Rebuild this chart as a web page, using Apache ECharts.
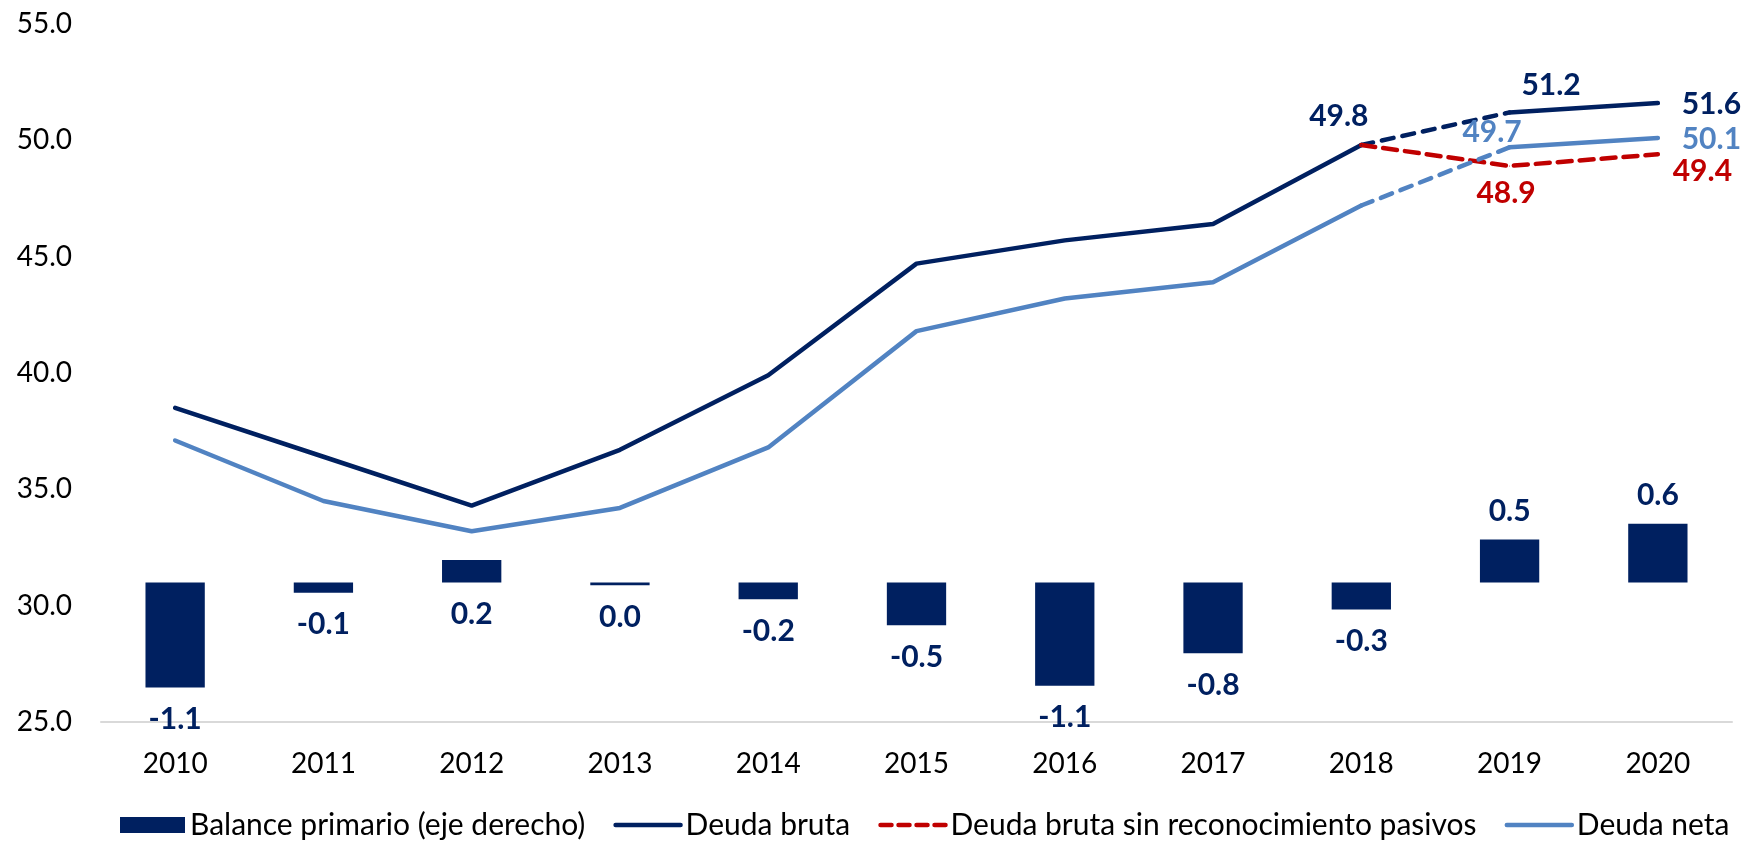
<!DOCTYPE html>
<html>
<head>
<meta charset="utf-8">
<script src="https://cdn.jsdelivr.net/npm/echarts@6/dist/echarts.min.js"></script>
<style>
html,body{margin:0;padding:0;background:#fff;}
#chart{width:1749px;height:841px;}
</style>
</head>
<body>
<div id="chart"></div>
<script>
// ---- Data ----
const categories = ['2010','2011','2012','2013','2014','2015','2016','2017','2018','2019','2020'];
const balancePrimario = [-1.13, -0.11, 0.24, -0.03, -0.18, -0.46, -1.11, -0.76, -0.29, 0.46, 0.63];
const deudaBruta = [38.5, 36.4, 34.3, 36.7, 39.9, 44.7, 45.7, 46.4, 49.8, 51.2, 51.6];
const deudaBrutaSinPasivos = [null, null, null, null, null, null, null, null, 49.8, 48.9, 49.4];
const deudaNeta = [37.1, 34.5, 33.2, 34.2, 36.8, 41.8, 43.2, 43.9, 47.2, 49.7, 50.1];
const leftTicks = [25, 30, 35, 40, 45, 50, 55];

// ---- Styling ----
const FONT = 'Lato, "Open Sans", sans-serif';
const C_DARK = '#002060';
const C_RED = '#C00000';
const C_LIGHT = '#5183C2';
const dashStart = 8;   // index where dashed (projected) segment begins
const dashEnd = 9;     // index where it ends
const LW = 4.5;
const LABEL_FS = 30;

const lineLabels = {
  bruta: {8: [-22, -28], 9: [42, -27], 10: [54, 2]},
  sin:   {9: [-3, 28], 10: [45, 18]},
  neta:  {9: [-17, -14], 10: [54, 2]}
};
const barLabelBelow = {'2012': true};

function fmt(v) { const r = Math.round(v * 10) / 10; return (r === 0 ? 0 : r).toFixed(1); }

function item(v, i, labels, color) {
  if (v === null || v === undefined) return '-';
  const off = labels[i];
  if (!off) return v;
  return {
    value: v,
    symbol: 'circle',
    symbolSize: 1,
    label: {
      show: true, position: off, align: 'center', verticalAlign: 'middle',
      formatter: (p) => fmt(p.value), color: color,
      fontFamily: FONT, fontSize: LABEL_FS, fontWeight: 'bold'
    }
  };
}

function segment(arr, from, to, labels, color) {
  return arr.map((v, i) => (i >= from && i <= to) ? item(v, i, labels, color) : '-');
}

function lineSeries(name, arr, color, labels, splitDashed) {
  const base = {
    name: name, type: 'line', symbol: 'none', yAxisIndex: 0,
    itemStyle: {color: color}, z: 3,
    emphasis: {disabled: true}
  };
  if (!splitDashed) {
    return [Object.assign({}, base, {
      data: segment(arr, 0, arr.length - 1, labels, color),
      lineStyle: {color: color, width: LW, type: [14, 8], cap: 'round'}
    })];
  }
  return [
    Object.assign({}, base, {
      data: segment(arr, 0, dashStart, labels, color),
      lineStyle: {color: color, width: LW, cap: 'round'}
    }),
    Object.assign({}, base, {
      data: segment(arr, dashStart, dashEnd, {}, color),
      lineStyle: {color: color, width: LW, type: [12, 9], cap: 'round'}
    }),
    Object.assign({}, base, {
      data: segment(arr, dashEnd, arr.length - 1, labels, color),
      lineStyle: {color: color, width: LW, cap: 'round'}
    })
  ];
}

const barData = balancePrimario.map((v, i) => {
  const below = v < 0 || barLabelBelow[categories[i]];
  return {
    value: v,
    label: {position: below ? 'bottom' : 'top', distance: below ? 17 : 13}
  };
});

const legendLine = (name, color, type) => ({
  name: name,
  itemStyle: {opacity: 0},
  lineStyle: {width: LW, color: color, type: type, cap: 'round'}
});

const chart = echarts.init(document.getElementById('chart'), null, {renderer: 'canvas'});
chart.setOption({
  animation: false,
  backgroundColor: '#fff',
  grid: {left: 101, right: 17, top: 24, bottom: 119, containLabel: false},
  legend: {
    data: [
      {name: 'Balance primario (eje derecho)', icon: 'rect'},
      legendLine('Deuda bruta', C_DARK, 'solid'),
      legendLine('Deuda bruta sin reconocimiento pasivos', C_RED, [11, 7]),
      legendLine('Deuda neta', C_LIGHT, 'solid')
    ],
    left: 115, top: 805,
    itemWidth: 65, itemHeight: 16, itemGap: 28,
    textStyle: {fontFamily: FONT, fontSize: 30, color: '#000'}
  },
  xAxis: {
    type: 'category', data: categories, boundaryGap: true,
    axisLine: {show: true, onZero: false, lineStyle: {color: '#d9d9d9', width: 2}},
    axisTick: {show: false},
    axisLabel: {color: '#000', fontFamily: FONT, fontSize: 28, margin: 28}
  },
  yAxis: [
    {
      type: 'value', min: leftTicks[0], max: leftTicks[leftTicks.length - 1], interval: 5,
      axisLine: {show: false}, axisTick: {show: false}, splitLine: {show: false},
      axisLabel: {color: '#000', fontFamily: FONT, fontSize: 28, margin: 29, formatter: (v) => v.toFixed(1)}
    },
    {
      type: 'value', min: -1.5, max: 6, show: false, splitLine: {show: false}
    }
  ],
  series: [
    {
      name: 'Balance primario (eje derecho)', type: 'bar', yAxisIndex: 1,
      data: barData, barWidth: '40%',
      itemStyle: {color: C_DARK},
      label: {show: true, color: C_DARK, fontFamily: FONT, fontSize: LABEL_FS, fontWeight: 'bold',
              formatter: (p) => fmt(p.value)},
      emphasis: {disabled: true}, z: 2
    },
    ...lineSeries('Deuda bruta', deudaBruta, C_DARK, lineLabels.bruta, true),
    ...lineSeries('Deuda bruta sin reconocimiento pasivos', deudaBrutaSinPasivos, C_RED, lineLabels.sin, false),
    ...lineSeries('Deuda neta', deudaNeta, C_LIGHT, lineLabels.neta, true)
  ]
});
</script>
</body>
</html>
